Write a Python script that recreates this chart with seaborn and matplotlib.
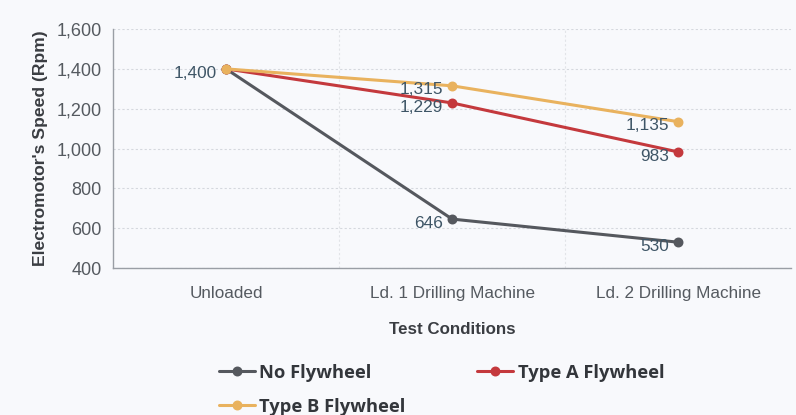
import matplotlib
matplotlib.use("Agg")
import matplotlib.pyplot as plt
import seaborn as sns
import pandas as pd
from matplotlib.ticker import FuncFormatter, FixedLocator

conditions = ["Unloaded", "Ld. 1 Drilling Machine", "Ld. 2 Drilling Machine"]
series_names = ["No Flywheel", "Type A Flywheel", "Type B Flywheel"]
no_flywheel = [1400, 646, 530]
type_a = [1400, 1229, 983]
type_b = [1400, 1315, 1135]
colors = ["#55585e", "#c4393d", "#e9b25e"]

values = [no_flywheel, type_a, type_b]
rows = []
for name, vals in zip(series_names, values):
    for c, v in zip(conditions, vals):
        rows.append({"Test Conditions": c, "Speed": v, "Series": name})
df = pd.DataFrame(rows)

sns.set_theme(style="white")
plt.rcParams["font.family"] = ["Liberation Sans", "DejaVu Sans"]

bg = "#f8f9fc"
fig = plt.figure(figsize=(7.96, 4.15), dpi=100, facecolor=bg)
ax = fig.add_axes([0.142, 0.354, 0.852, 0.576])
ax.set_facecolor(bg)

sns.pointplot(data=df, x="Test Conditions", y="Speed", hue="Series",
              order=conditions, hue_order=series_names, palette=colors,
              markers="o", markersize=5.5, linewidth=2.2, ax=ax, errorbar=None)

ax.set_xlim(-0.5, 2.5)
ax.set_ylim(400, 1600)
ax.yaxis.set_major_locator(FixedLocator(range(400, 1601, 200)))
ax.yaxis.set_major_formatter(FuncFormatter(lambda v, p: f"{int(v):,}"))

ax.xaxis.set_minor_locator(FixedLocator([0.5, 1.5]))
ax.grid(True, axis="y", which="major", color="#d5d8de", linestyle=(0, (2, 2)), linewidth=0.8)
ax.grid(True, axis="x", which="minor", color="#e2e4e8", linestyle=(0, (2, 2)), linewidth=0.8)
ax.set_axisbelow(True)

for s in ["top", "right"]:
    ax.spines[s].set_visible(False)
for s in ["left", "bottom"]:
    ax.spines[s].set_color("#9a9ea5")
    ax.spines[s].set_linewidth(1.0)

ax.tick_params(axis="both", which="major", length=4, color="#9a9ea5", labelcolor="#555a60")
ax.tick_params(axis="y", labelsize=13, pad=4)
ax.tick_params(axis="x", labelsize=12.3, pad=9)
ax.tick_params(axis="x", which="minor", length=0)

ax.set_xlabel("Test Conditions", fontsize=12.2, fontweight="bold", color="#3a3d42", labelpad=15)
ax.set_ylabel("Electromotor's Speed (Rpm)", fontsize=12.6, fontweight="bold", color="#3a3d42", labelpad=6)

lab_color = "#3e5566"
for name, vals in zip(series_names, values):
    for i, v in enumerate(vals):
        if i == 0 and name != series_names[-1]:
            continue
        ax.annotate(f"{v:,}", (i, v), xytext=(-6.5, -3), textcoords="offset points",
                    ha="right", va="center", fontsize=12.4, color=lab_color, zorder=5)

handles, labels = ax.get_legend_handles_labels()
ax.get_legend().remove()
order = [0, 2, 1]
leg = fig.legend([handles[i] for i in order], [labels[i] for i in order],
                 loc="upper left", bbox_to_anchor=(0.263, 0.146),
                 ncol=2, frameon=False, columnspacing=3.9, borderpad=0,
                 handlelength=1.97, handletextpad=0.25, labelspacing=0.88,
                 prop={"family": ["Open Sans", "DejaVu Sans"], "weight": "bold", "size": 13.2})
for t in leg.get_texts():
    t.set_color("#33363b")

fig.savefig("out.png", dpi=100, facecolor=bg)
